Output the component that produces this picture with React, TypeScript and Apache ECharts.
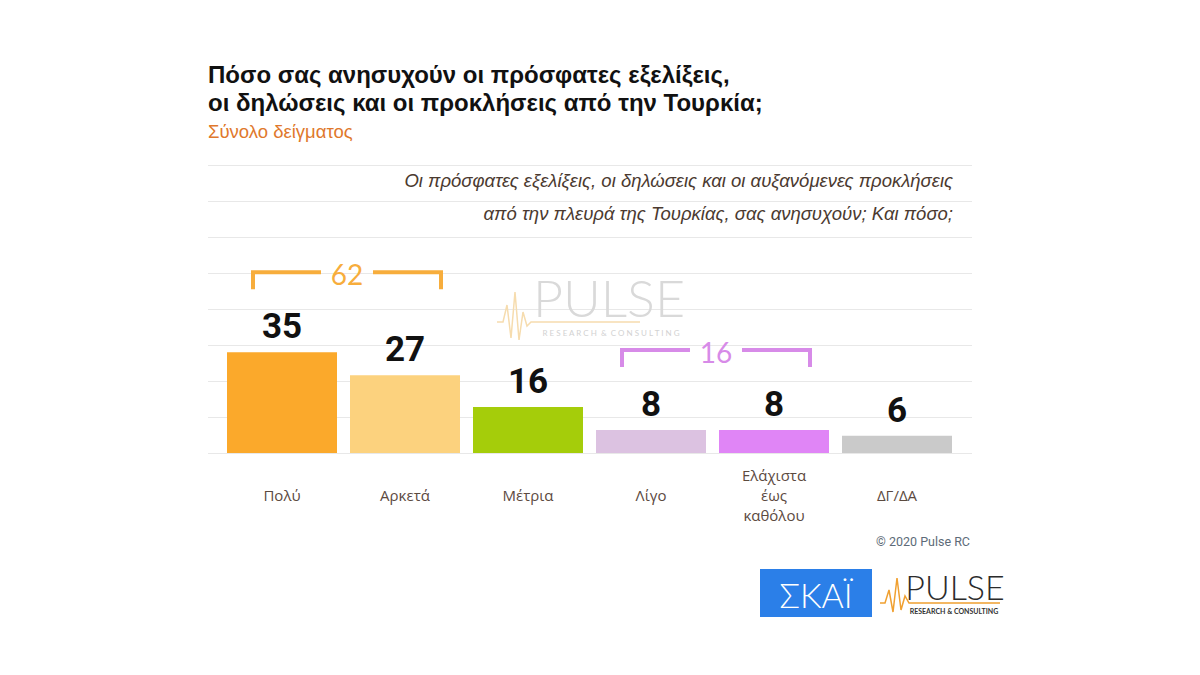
import React, { useEffect, useRef } from "react";
import * as echarts from "echarts";

const categories = ["Πολύ", "Αρκετά", "Μέτρια", "Λίγο", "Ελάχιστα\nέως\nκαθόλου", "ΔΓ/ΔΑ"];
const values = [35, 27, 16, 8, 8, 6];
const barColors = ["#fba92b", "#fcd27e", "#a5cd0a", "#dcc2e1", "#e085f6", "#cacaca"];
const groupTotals = ["62", "16"];
const groupRanges = [[0, 1], [3, 4]];
const groupColors = ["#f7ad3c", "#d78be8"];

const titleText = "Πόσο σας ανησυχούν οι πρόσφατες εξελίξεις,\nοι δηλώσεις και οι προκλήσεις από την Τουρκία;";
const subtitleText = "Σύνολο δείγματος";
const questionText =
  "Οι πρόσφατες εξελίξεις, οι δηλώσεις και οι αυξανόμενες προκλήσεις\nαπό την πλευρά της Τουρκίας, σας ανησυχούν; Και πόσο;";
const copyrightText = "© 2020 Pulse RC";

export default function App() {
  const ref = useRef<HTMLDivElement>(null);

  useEffect(() => {
    if (!ref.current) return;
    const chart = echarts.init(ref.current, null, { renderer: "svg", width: 1200, height: 675 });

    chart.setOption({
      animation: false,
      backgroundColor: "#ffffff",
      grid: [
        { left: 208, right: 228, top: 165, height: 288 },
        { left: 220.5, right: 241.5, top: 165, height: 288 },
      ],
      xAxis: [
        { gridIndex: 0, type: "value", min: 0, max: 1, show: false },
        {
          gridIndex: 1,
          type: "category",
          data: categories,
          axisLine: { show: false },
          axisTick: { show: false },
          axisLabel: {
            interval: 0,
            fontSize: 15,
            fontFamily: "Open Sans",
            color: "#5c4a3f",
            lineHeight: 20,
            verticalAlign: "middle",
            margin: 42,
          },
        },
      ],
      yAxis: [
        {
          gridIndex: 0,
          type: "value",
          min: 0,
          max: 100,
          interval: 12.5,
          axisLine: { show: false },
          axisTick: { show: false },
          axisLabel: { show: false },
          splitLine: { show: true, lineStyle: { color: "#e8e8e8", width: 1 } },
        },
        {
          gridIndex: 1,
          type: "value",
          min: 0,
          max: 100,
          show: false,
          splitLine: { show: false },
        },
      ],
      series: [
        {
          type: "bar",
          xAxisIndex: 1,
          yAxisIndex: 1,
          barWidth: 110,
          data: values.map((v, i) => ({ value: v, itemStyle: { color: barColors[i] } })),
          label: {
            show: true,
            position: "top",
            distance: 8,
            fontSize: 35,
            fontWeight: "bold",
            fontFamily: "Roboto",
            color: "#111111",
          },
        },
      ],
    });

    const graphics: any[] = [];

    // Title, subtitle, question
    graphics.push({
      type: "text",
      x: 208,
      y: 60,
      style: {
        text: titleText,
        fontSize: 24,
        fontWeight: "bold",
        fontFamily: "Liberation Sans",
        fill: "#111111",
        lineHeight: 28,
        align: "left",
        verticalAlign: "top",
      },
    });
    graphics.push({
      type: "text",
      x: 208,
      y: 131,
      style: {
        text: subtitleText,
        fontSize: 18.5,
        fontFamily: "Liberation Sans",
        fill: "#e0782c",
        align: "left",
        verticalAlign: "middle",
      },
    });
    graphics.push({
      type: "text",
      x: 953,
      y: 163.5,
      style: {
        text: questionText,
        fontSize: 18.5,
        fontStyle: "italic",
        fontFamily: "Liberation Sans",
        fill: "#4b3a30",
        lineHeight: 33,
        align: "right",
        verticalAlign: "top",
      },
    });

    // Watermark logo (center)
    graphics.push({
      type: "polyline",
      shape: {
        points: [
          [497, 322], [503, 322], [507, 305], [511, 338], [515, 292], [519, 340], [523, 312], [527, 326], [531, 322], [640, 322],
        ],
      },
      style: { stroke: "#f6dcae", lineWidth: 1.5, fill: null },
    });
    graphics.push({
      type: "text",
      x: 609,
      y: 297,
      style: {
        text: "PULSE",
        fontSize: 52,
        fontWeight: 300,
        fontFamily: "Lato",
        fill: "#d9d9d9",
        align: "center",
        verticalAlign: "middle",
      },
    });
    graphics.push({
      type: "text",
      x: 611,
      y: 333,
      style: {
        text: "R E S E A R C H  &  C O N S U L T I N G",
        fontSize: 8,
        fontFamily: "Lato",
        fill: "#d2d2d2",
        align: "center",
        verticalAlign: "middle",
      },
    });

    // Group brackets computed from the bars' pixel positions
    groupRanges.forEach((rg, gi) => {
      const maxV = Math.max(...rg.map((i) => values[i]));
      const leftPt = chart.convertToPixel({ xAxisIndex: 1, yAxisIndex: 1 }, [rg[0], maxV]) as number[];
      const rightPt = chart.convertToPixel({ xAxisIndex: 1, yAxisIndex: 1 }, [rg[1], maxV]) as number[];
      const x1 = leftPt[0] - 29;
      const x2 = rightPt[0] + 36;
      const y = leftPt[1] - 80;
      const mid = (x1 + x2) / 2;
      const col = groupColors[gi];
      graphics.push({
        type: "polyline",
        shape: { points: [[x1, y + 17], [x1, y], [mid - 26, y]] },
        style: { stroke: col, lineWidth: 4, fill: null },
      });
      graphics.push({
        type: "polyline",
        shape: { points: [[mid + 26, y], [x2, y], [x2, y + 17]] },
        style: { stroke: col, lineWidth: 4, fill: null },
      });
      graphics.push({
        type: "text",
        x: mid,
        y: y + 2,
        style: {
          text: groupTotals[gi],
          fontSize: 28,
          fontFamily: "Lato",
          fill: col,
          align: "center",
          verticalAlign: "middle",
        },
      });
    });

    // Copyright
    graphics.push({
      type: "text",
      x: 970,
      y: 541,
      style: {
        text: copyrightText,
        fontSize: 12.5,
        fontFamily: "Roboto",
        fill: "#5d6b78",
        align: "right",
        verticalAlign: "middle",
      },
    });

    // SKAI logo
    graphics.push({
      type: "rect",
      shape: { x: 760, y: 569, width: 112, height: 48 },
      style: { fill: "#2b7fe8" },
    });
    graphics.push({
      type: "text",
      x: 816,
      y: 594,
      style: {
        text: "ΣΚΑΪ",
        fontSize: 34,
        fontWeight: 300,
        fontFamily: "Lato",
        fill: "#ffffff",
        align: "center",
        verticalAlign: "middle",
      },
    });

    // PULSE logo
    graphics.push({
      type: "polyline",
      shape: {
        points: [
          [880, 603], [885, 603], [889, 590], [893, 612], [897, 578], [901, 610], [905, 596], [909, 603], [1000, 603],
        ],
      },
      style: { stroke: "#f0a030", lineWidth: 1.5, fill: null },
    });
    graphics.push({
      type: "text",
      x: 955,
      y: 586,
      style: {
        text: "PULSE",
        fontSize: 34,
        fontWeight: 300,
        fontFamily: "Lato",
        fill: "#2b2b2b",
        align: "center",
        verticalAlign: "middle",
      },
    });
    graphics.push({
      type: "text",
      x: 954,
      y: 611,
      style: {
        text: "RESEARCH & CONSULTING",
        fontSize: 7,
        fontWeight: "bold",
        fontFamily: "Lato",
        fill: "#333333",
        align: "center",
        verticalAlign: "middle",
      },
    });

    chart.setOption({ graphic: graphics });

    return () => {
      chart.dispose();
    };
  }, []);

  return (
    <div
      ref={ref}
      style={{ position: "fixed", left: 0, top: 0, width: 1200, height: 675, background: "#ffffff" }}
    />
  );
}
